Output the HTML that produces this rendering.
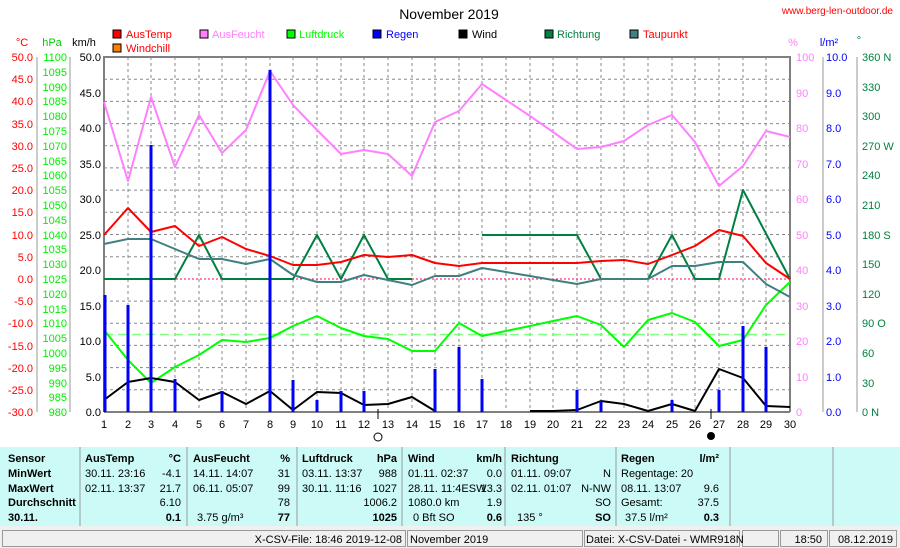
<!DOCTYPE html>
<html><head><meta charset="utf-8"><style>
body{margin:0;width:900px;height:548px;overflow:hidden;background:#fff;font-family:"Liberation Sans",sans-serif}
svg{position:absolute;left:0;top:0}
text{font-family:"Liberation Sans",sans-serif;font-size:11px}
</style></head><body>
<svg width="900" height="548" viewBox="0 0 900 548">
<text x="449" y="19" text-anchor="middle" style="font-size:14px">November 2019</text>
<text x="893" y="14" text-anchor="end" fill="#f00" style="font-size:10px">www.berg-len-outdoor.de</text>
<g stroke="#000" stroke-width="1">
<rect x="113" y="30" width="8" height="8" fill="#f00"/><rect x="113" y="44" width="8" height="8" fill="#ff8000"/>
<rect x="200" y="30" width="8" height="8" fill="#ff80ff"/><rect x="287" y="30" width="8" height="8" fill="#0f0"/>
<rect x="373" y="30" width="8" height="8" fill="#00f"/><rect x="459" y="30" width="8" height="8" fill="#000"/>
<rect x="545" y="30" width="8" height="8" fill="#008040"/><rect x="630" y="30" width="8" height="8" fill="#408080"/>
</g>
<text x="126" y="38" fill="#f00">AusTemp</text><text x="126" y="52" fill="#f00">Windchill</text>
<text x="212" y="38" fill="#ff80ff">AusFeucht</text><text x="299" y="38" fill="#0f0">Luftdruck</text>
<text x="386" y="38" fill="#00f">Regen</text><text x="472" y="38" fill="#000">Wind</text>
<text x="557" y="38" fill="#008040">Richtung</text><text x="643" y="38" fill="#f00">Taupunkt</text>
<text x="22" y="46" fill="#f00" text-anchor="middle">°C</text>
<text x="52" y="46" fill="#0c0" text-anchor="middle">hPa</text>
<text x="84" y="46" text-anchor="middle">km/h</text>
<text x="793" y="46" fill="#ff80ff" text-anchor="middle">%</text>
<text x="829" y="46" fill="#00f" text-anchor="middle">l/m²</text>
<text x="859" y="44" fill="#008040" text-anchor="middle">°</text>
<g stroke="#888" stroke-width="1" stroke-dasharray="3,3">
<line x1="104" x2="790" y1="79.2" y2="79.2"/><line x1="104" x2="790" y1="101.4" y2="101.4"/><line x1="104" x2="790" y1="123.6" y2="123.6"/><line x1="104" x2="790" y1="145.8" y2="145.8"/><line x1="104" x2="790" y1="167.9" y2="167.9"/><line x1="104" x2="790" y1="190.1" y2="190.1"/><line x1="104" x2="790" y1="212.3" y2="212.3"/><line x1="104" x2="790" y1="234.5" y2="234.5"/><line x1="104" x2="790" y1="256.7" y2="256.7"/><line x1="104" x2="790" y1="301.1" y2="301.1"/><line x1="104" x2="790" y1="323.3" y2="323.3"/><line x1="104" x2="790" y1="345.4" y2="345.4"/><line x1="104" x2="790" y1="367.6" y2="367.6"/><line x1="104" x2="790" y1="389.8" y2="389.8"/>
<line y1="57" y2="412" x1="128" x2="128"/><line y1="57" y2="412" x1="151" x2="151"/><line y1="57" y2="412" x1="175" x2="175"/><line y1="57" y2="412" x1="199" x2="199"/><line y1="57" y2="412" x1="222" x2="222"/><line y1="57" y2="412" x1="246" x2="246"/><line y1="57" y2="412" x1="270" x2="270"/><line y1="57" y2="412" x1="293" x2="293"/><line y1="57" y2="412" x1="317" x2="317"/><line y1="57" y2="412" x1="341" x2="341"/><line y1="57" y2="412" x1="364" x2="364"/><line y1="57" y2="412" x1="388" x2="388"/><line y1="57" y2="412" x1="412" x2="412"/><line y1="57" y2="412" x1="435" x2="435"/><line y1="57" y2="412" x1="459" x2="459"/><line y1="57" y2="412" x1="482" x2="482"/><line y1="57" y2="412" x1="506" x2="506"/><line y1="57" y2="412" x1="530" x2="530"/><line y1="57" y2="412" x1="553" x2="553"/><line y1="57" y2="412" x1="577" x2="577"/><line y1="57" y2="412" x1="601" x2="601"/><line y1="57" y2="412" x1="624" x2="624"/><line y1="57" y2="412" x1="648" x2="648"/><line y1="57" y2="412" x1="672" x2="672"/><line y1="57" y2="412" x1="695" x2="695"/><line y1="57" y2="412" x1="719" x2="719"/><line y1="57" y2="412" x1="743" x2="743"/><line y1="57" y2="412" x1="766" x2="766"/>
</g>
<line x1="104" x2="790" y1="279" y2="279" stroke="#f06" stroke-dasharray="2,2"/>
<line x1="104" x2="790" y1="334.5" y2="334.5" stroke="#80ff80" stroke-width="1.5" stroke-dasharray="9,5"/>
<path d="M104 412V57H790V412" fill="none" stroke="#808080" stroke-width="2"/>
<line x1="104" x2="790" y1="412" y2="412" stroke="#808080" stroke-width="2"/>
<g stroke="#999"><line x1="37" x2="37" y1="57" y2="412"/><line x1="70" x2="70" y1="57" y2="412"/><line x1="823" x2="823" y1="57" y2="412"/><line x1="857" x2="857" y1="57" y2="412"/></g>
<g fill="#f00" text-anchor="end">
<text x="33" y="61">50.0</text><text x="33" y="83">45.0</text><text x="33" y="105">40.0</text><text x="33" y="128">35.0</text><text x="33" y="150">30.0</text><text x="33" y="172">25.0</text><text x="33" y="194">20.0</text><text x="33" y="216">15.0</text><text x="33" y="239">10.0</text><text x="33" y="261">5.0</text><text x="33" y="283">0.0</text><text x="33" y="305">-5.0</text><text x="33" y="327">-10.0</text><text x="33" y="350">-15.0</text><text x="33" y="372">-20.0</text><text x="33" y="394">-25.0</text><text x="33" y="416">-30.0</text>
</g>
<g fill="#0e0" text-anchor="end">
<text x="67" y="61">1100</text><text x="67" y="76">1095</text><text x="67" y="91">1090</text><text x="67" y="105">1085</text><text x="67" y="120">1080</text><text x="67" y="135">1075</text><text x="67" y="150">1070</text><text x="67" y="165">1065</text><text x="67" y="179">1060</text><text x="67" y="194">1055</text><text x="67" y="209">1050</text><text x="67" y="224">1045</text><text x="67" y="239">1040</text><text x="67" y="253">1035</text><text x="67" y="268">1030</text><text x="67" y="283">1025</text><text x="67" y="298">1020</text><text x="67" y="313">1015</text><text x="67" y="327">1010</text><text x="67" y="342">1005</text><text x="67" y="357">1000</text><text x="67" y="372">995</text><text x="67" y="387">990</text><text x="67" y="401">985</text><text x="67" y="416">980</text>
</g>
<g text-anchor="end" style="font-size:12px">
<text x="101" y="61">50.0</text><text x="101" y="97">45.0</text><text x="101" y="132">40.0</text><text x="101" y="168">35.0</text><text x="101" y="203">30.0</text><text x="101" y="239">25.0</text><text x="101" y="274">20.0</text><text x="101" y="310">15.0</text><text x="101" y="345">10.0</text><text x="101" y="381">5.0</text><text x="101" y="416">0.0</text>
</g>
<g fill="#ff80ff"><text x="796" y="61">100</text><text x="796" y="97">90</text><text x="796" y="132">80</text><text x="796" y="168">70</text><text x="796" y="203">60</text><text x="796" y="239">50</text><text x="796" y="274">40</text><text x="796" y="310">30</text><text x="796" y="345">20</text><text x="796" y="381">10</text><text x="796" y="416">0</text></g>
<g fill="#00f"><text x="826" y="61">10.0</text><text x="826" y="97">9.0</text><text x="826" y="132">8.0</text><text x="826" y="168">7.0</text><text x="826" y="203">6.0</text><text x="826" y="239">5.0</text><text x="826" y="274">4.0</text><text x="826" y="310">3.0</text><text x="826" y="345">2.0</text><text x="826" y="381">1.0</text><text x="826" y="416">0.0</text></g>
<g fill="#008040"><text x="862" y="61">360 N</text><text x="862" y="91">330</text><text x="862" y="120">300</text><text x="862" y="150">270 W</text><text x="862" y="179">240</text><text x="862" y="209">210</text><text x="862" y="239">180 S</text><text x="862" y="268">150</text><text x="862" y="298">120</text><text x="862" y="327">90  O</text><text x="862" y="357">60</text><text x="862" y="387">30</text><text x="862" y="416">0   N</text></g>
<g text-anchor="middle" style="font-size:12px">
<text x="104" y="428">1</text><text x="128" y="428">2</text><text x="151" y="428">3</text><text x="175" y="428">4</text><text x="199" y="428">5</text><text x="222" y="428">6</text><text x="246" y="428">7</text><text x="270" y="428">8</text><text x="293" y="428">9</text><text x="317" y="428">10</text><text x="341" y="428">11</text><text x="364" y="428">12</text><text x="388" y="428">13</text><text x="412" y="428">14</text><text x="435" y="428">15</text><text x="459" y="428">16</text><text x="482" y="428">17</text><text x="506" y="428">18</text><text x="530" y="428">19</text><text x="553" y="428">20</text><text x="577" y="428">21</text><text x="601" y="428">22</text><text x="624" y="428">23</text><text x="648" y="428">24</text><text x="672" y="428">25</text><text x="695" y="428">26</text><text x="719" y="428">27</text><text x="743" y="428">28</text><text x="766" y="428">29</text><text x="790" y="428">30</text>
</g>
<line x1="378" x2="378" y1="409" y2="419" stroke="#000"/><circle cx="378" cy="437" r="4" fill="none" stroke="#000"/>
<line x1="711" x2="711" y1="409" y2="419" stroke="#000"/><circle cx="711" cy="436" r="4" fill="#000"/>
<g fill="none" stroke-width="2" stroke-linejoin="round">
<polyline stroke="#ff80ff" points="104,102 128,181 151,97 175,167 199,115 222,153 246,130 270,71 293,105 317,130 341,154 364,150 388,154 412,176 435,122 459,111 482,84 506,100 530,116 553,132 577,149 601,147 624,141 648,125 672,115 695,142 719,186 743,166 766,131 790,137"/>
<polyline stroke="#0f0" points="104,330 128,360 151,383 175,367 199,355 222,340 246,342 270,338 293,326 317,316 341,328 364,336 388,339 412,351 435,351 459,323 482,336 506,331 530,326 553,321 577,316 601,325 624,347 648,320 672,313 695,322 719,346 743,340 766,305 790,282"/>
<polyline stroke="#008040" points="104,279 128,279 151,279 175,279 199,235 222,279 246,279 270,279 293,279 317,235 341,279 364,235 388,279 412,279"/>
<polyline stroke="#008040" points="482,235 506,235 530,235 553,235 577,235 601,279 624,279 648,279 672,235 695,279 719,279 743,190 790,279"/>
<polyline stroke="#408080" points="104,244 128,239 151,239 175,249 199,259 222,259 246,264 270,259 293,275 317,282 341,282 364,275 388,280 412,285 435,276 459,276 482,268 506,272 530,276 553,280 577,284 601,279 624,279 648,279 672,266 695,266 719,262 743,262 766,284 790,297"/>
<polyline stroke="#f00" points="104,235 128,208 151,232 175,226 199,246 222,237 246,249 270,256 293,265 317,265 341,262 364,255 388,257 412,255 435,263 459,266 482,263 506,263 530,263 553,263 577,263 601,261 624,260 648,264 672,255 695,246 719,230 743,236 766,263 790,279"/>
<polyline stroke="#000" points="104,400 128,382 151,378 175,382 199,400 222,392 246,404 270,391 293,410 317,392 341,393 364,405 388,404 412,397 435,411"/>
<polyline stroke="#000" points="530,411 553,411 577,410 601,401 624,404 648,411 672,404 695,411 719,369 743,378 766,406 790,407"/>
</g>
<g stroke="#00f" stroke-width="3">
<line x1="105" x2="105" y1="412" y2="295"/><line x1="128" x2="128" y1="412" y2="305"/><line x1="151" x2="151" y1="412" y2="145"/><line x1="175" x2="175" y1="412" y2="379"/><line x1="222" x2="222" y1="412" y2="391"/><line x1="270" x2="270" y1="412" y2="70"/><line x1="293" x2="293" y1="412" y2="380"/><line x1="317" x2="317" y1="412" y2="400"/><line x1="341" x2="341" y1="412" y2="391"/><line x1="364" x2="364" y1="412" y2="391"/><line x1="435" x2="435" y1="412" y2="369"/><line x1="459" x2="459" y1="412" y2="347"/><line x1="482" x2="482" y1="412" y2="379"/><line x1="577" x2="577" y1="412" y2="390"/><line x1="601" x2="601" y1="412" y2="401"/><line x1="672" x2="672" y1="412" y2="400"/><line x1="719" x2="719" y1="412" y2="390"/><line x1="743" x2="743" y1="412" y2="326"/><line x1="766" x2="766" y1="412" y2="347"/>
</g>
<rect x="0" y="447" width="900" height="79" fill="#ccfaf6"/>
<g stroke="#999"><line x1="80" x2="80" y1="447" y2="526"/><line x1="187" x2="187" y1="447" y2="526"/><line x1="297" x2="297" y1="447" y2="526"/><line x1="402" x2="402" y1="447" y2="526"/><line x1="505" x2="505" y1="447" y2="526"/><line x1="616" x2="616" y1="447" y2="526"/><line x1="730" x2="730" y1="447" y2="526"/><line x1="833" x2="833" y1="447" y2="526"/></g>
<g style="font-size:10px">
<g font-weight="bold" style="font-size:10.5px"><text x="8" y="462">Sensor</text><text x="8" y="477">MinWert</text><text x="8" y="492">MaxWert</text><text x="8" y="506">Durchschnitt</text><text x="8" y="521">30.11.</text>
<text x="85" y="462">AusTemp</text><text x="193" y="462">AusFeucht</text><text x="302" y="462">Luftdruck</text><text x="408" y="462">Wind</text><text x="511" y="462">Richtung</text><text x="621" y="462">Regen</text></g>
<g text-anchor="end" font-weight="bold" style="font-size:10.5px"><text x="181" y="462">°C</text><text x="290" y="462">%</text><text x="397" y="462">hPa</text><text x="502" y="462">km/h</text><text x="719" y="462">l/m²</text>
<text x="181" y="521">0.1</text><text x="290" y="521">77</text><text x="397" y="521">1025</text><text x="502" y="521">0.6</text><text x="611" y="521">SO</text><text x="719" y="521">0.3</text></g>
<text x="85" y="477">30.11.  23:16</text><text x="85" y="492">02.11.  13:37</text>
<text x="193" y="477">14.11.  14:07</text><text x="193" y="492">06.11.  05:07</text><text x="197" y="521">3.75 g/m³</text>
<text x="302" y="477">03.11.  13:37</text><text x="302" y="492">30.11.  11:16</text>
<text x="408" y="477">01.11.  02:37</text><text x="408" y="492">28.11. 11:4ESW</text><text x="408" y="506">1080.0 km</text><text x="413" y="521">0 Bft SO</text>
<text x="511" y="477">01.11.  09:07</text><text x="511" y="492">02.11.  01:07</text><text x="517" y="521">135 °</text>
<text x="621" y="477">Regentage: 20</text><text x="621" y="492">08.11.  13:07</text><text x="621" y="506">Gesamt:</text><text x="625" y="521">37.5 l/m²</text>
<g text-anchor="end"><text x="181" y="477">-4.1</text><text x="181" y="492">21.7</text><text x="181" y="506">6.10</text>
<text x="290" y="477">31</text><text x="290" y="492">99</text><text x="290" y="506">78</text>
<text x="397" y="477">988</text><text x="397" y="492">1027</text><text x="397" y="506">1006.2</text>
<text x="502" y="477">0.0</text><text x="502" y="492">13.3</text><text x="502" y="506">1.9</text>
<text x="611" y="477">N</text><text x="611" y="492">N-NW</text><text x="611" y="506">SO</text>
<text x="719" y="492">9.6</text><text x="719" y="506">37.5</text></g>
</g>
<rect x="0" y="526" width="900" height="22" fill="#f0f0f0"/>
<g fill="none" stroke="#999"><rect x="2.5" y="530.5" width="403" height="16"/><rect x="407.5" y="530.5" width="175" height="16"/><rect x="584.5" y="530.5" width="155" height="16"/><rect x="742.5" y="530.5" width="36" height="16"/><rect x="780.5" y="530.5" width="47" height="16"/><rect x="829.5" y="530.5" width="67" height="16"/></g>
<g style="font-size:10px"><text x="402" y="543" text-anchor="end">X-CSV-File:  18:46  2019-12-08</text><text x="410" y="543">November 2019</text><text x="586" y="543">Datei: X-CSV-Datei - WMR918N</text><text x="822" y="543" text-anchor="end">18:50</text><text x="893" y="543" text-anchor="end">08.12.2019</text></g>
</svg>
</body></html>
